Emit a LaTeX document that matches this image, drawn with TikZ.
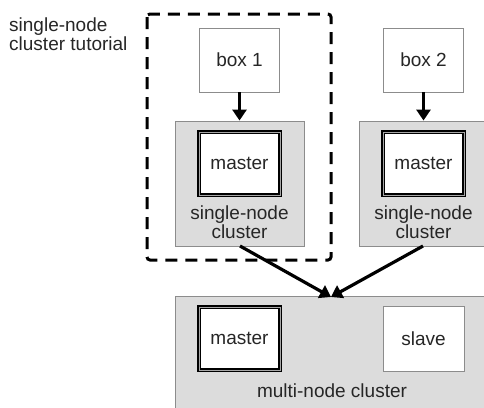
\documentclass[tikz,border=0pt]{standalone}
\usepackage{fontspec}
\setmainfont{Liberation Sans}
\usetikzlibrary{arrows.meta}
\definecolor{clustergray}{HTML}{DCDCDC}
\definecolor{edgegray}{HTML}{8C8C8C}
\tikzset{
BOX/.style ={draw=edgegray,fill=white,line width=0.9pt,minimum width=#1,minimum height=64pt,inner sep=0pt},
BOX/.default = 80pt,
CLUSTER/.style ={draw=edgegray,fill=clustergray,line width=0.9pt,minimum width=129pt,minimum height=125pt,inner sep=0pt},
MASTER/.style ={draw=black,fill=white,line width=1.9pt,double=gray!70,double distance=0.9pt,minimum width=81pt,minimum height=63pt,inner sep=0pt},
FLOW/.style ={draw=black,line width=3.2pt,-{Triangle[length=11pt,width=14pt]}},
FRAME/.style ={draw=black,line width=3pt,dash pattern=on 12pt off 8pt,rounded corners=3pt},
TEXT/.style ={text=black!85,font=\fontsize{19}{19}\selectfont,align=center,inner sep=0pt},
}
\begin{document}
\begin{tikzpicture}[x=1pt,y=-1pt]
	\useasboundingbox (0,0) rectangle (484,407);
	\clip (0,0) rectangle (484,407);
	\node[TEXT,align=left,anchor=north west] (tutorial) at (9,18) {single-node\\cluster tutorial};
	% single-node part
	\draw[FRAME] (147,14) rectangle (331,260);
	\node[BOX] (box1) at (239.5,60) {};
	\node[TEXT] at (box1) {box 1};
	\node[BOX] (box2) at (423.5,60) {};
	\node[TEXT] at (box2) {box 2};
	\node[CLUSTER] (single1) at (239.5,183.5) {};
	\node[CLUSTER] (single2) at (423.5,183.5) {};
	\node[MASTER] (master1) at (239.5,163.5) {};
	\node[TEXT] at (master1) {master};
	\node[MASTER] (master2) at (423.5,163.5) {};
	\node[TEXT] at (master2) {master};
	\node[TEXT] (label1) at (239.5,222.5) {single-node\\cluster};
	\node[TEXT] (label2) at (423.5,222.5) {single-node\\cluster};
	% multi-node part
	\node[CLUSTER,minimum width=330pt,minimum height=130pt] (multi) at (340,361) {};
	\node[MASTER] (master3) at (239.5,338.5) {};
	\node[TEXT] at (master3) {master};
	\node[BOX,minimum width=81pt,minimum height=65pt] (slave) at (423.5,338.5) {};
	\node[TEXT] at (slave) {slave};
	\node[TEXT] (label3) at (332,391) {multi-node cluster};
	\coordinate (join) at (331,297);
	\coordinate (out1) at (240,246);
	\coordinate (out2) at (423,246);
	\path[FLOW] (box1) -- (single1.north);
	\path[FLOW] (box2) -- (single2.north);
	\path[FLOW] (out1) -- (join);
	\path[FLOW] (out2) -- (join);
\end{tikzpicture}
\end{document}
